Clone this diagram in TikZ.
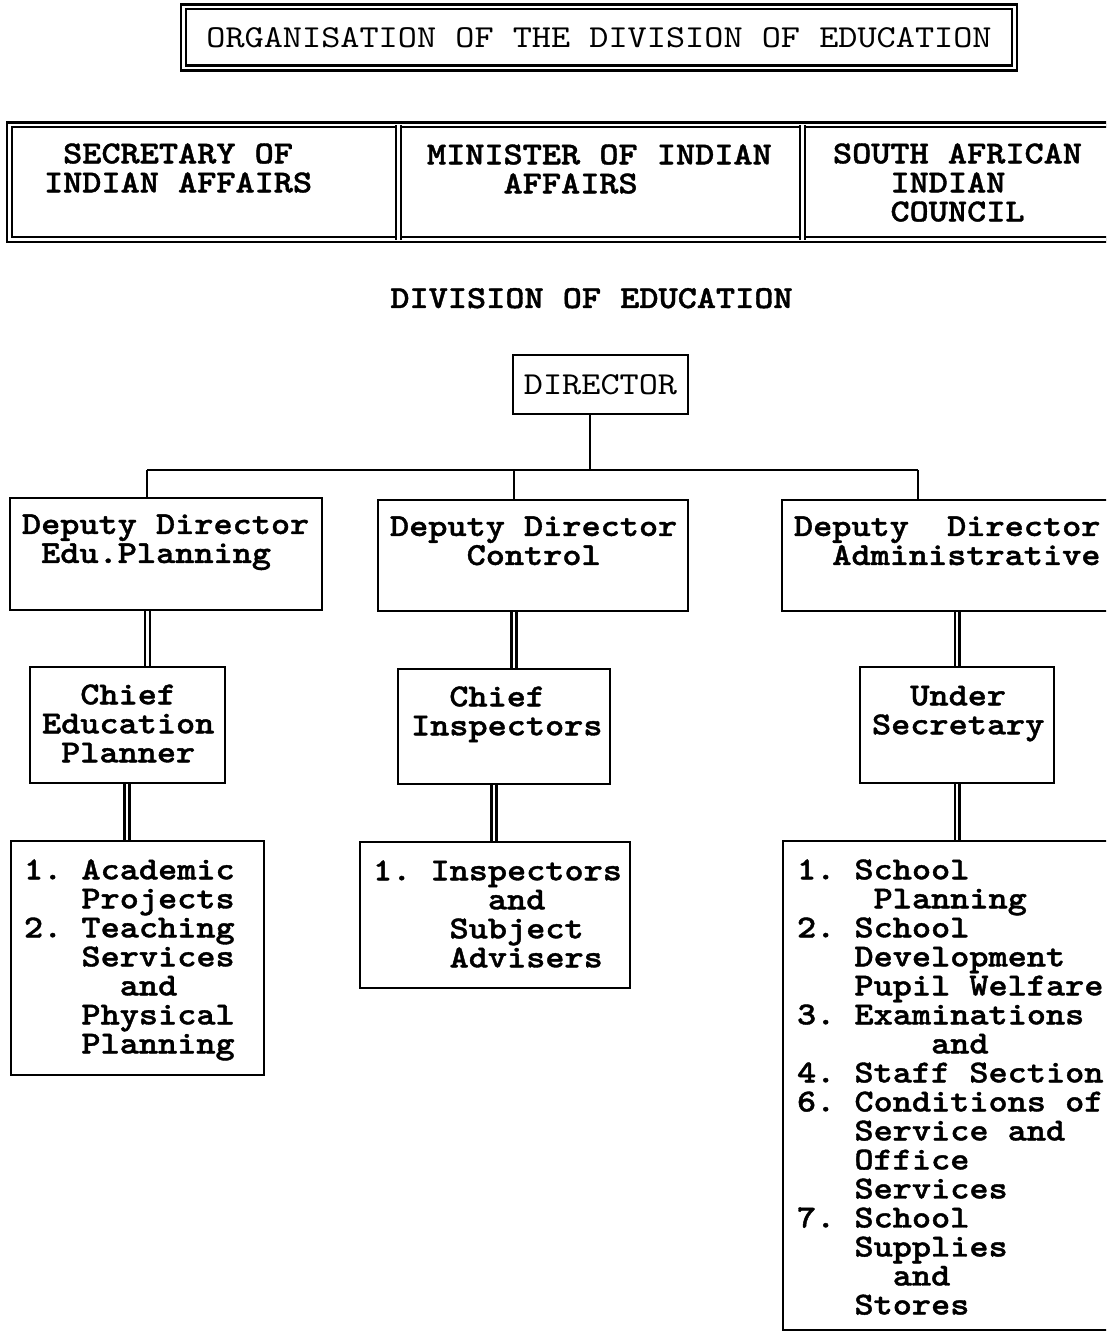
\documentclass[tikz,border=0pt]{standalone}
\usepackage{fontspec}
\newfontfamily\cour{lmmono10-regular}[Extension=.otf, BoldFont=lmmonolt10-bold, BoldFeatures={FakeBold=1.2}, FakeStretch=1.14]
\usetikzlibrary{backgrounds}
\begin{document}
\begin{tikzpicture}[x=0.01cm,y=-0.01cm,
  ln/.style={line width=0.75pt},
  box/.style={draw, line width=0.75pt, inner sep=0pt, outer sep=0pt},
  dbl/.style={draw, line width=0.6pt, double, double distance=0.8pt},
  cell/.style={inner sep=0pt, outer sep=0pt},
  txt/.style={inner sep=0pt, outer sep=0pt, anchor=north west, align=left,
    font={\cour\bfseries\fontsize{9.1pt}{8.25pt}\selectfont\frenchspacing\lineskiplimit=-20pt\lineskip=0pt},
    execute at begin node={\rule{0pt}{7pt}}},
  plain/.style={font={\cour\fontsize{9.1pt}{8.25pt}\selectfont\frenchspacing}},
  heavy/.style={font={\cour\bfseries\fontsize{9.1pt}{8.25pt}\selectfont\frenchspacing}},
]
\useasboundingbox (0,0) rectangle (1106,1334);
\clip (0,0) rectangle (1106,1334);

% heading
\node[dbl, plain, inner sep=0pt, outer sep=0pt, minimum width=8.31cm, minimum height=0.61cm]
  (title) at (599,37.5) {ORGANISATION OF THE DIVISION OF EDUCATION};

% upper row: three cells inside one double frame
\node[cell, minimum width=3.885cm, minimum height=1.145cm] (sec)  at (203.75,182.25) {};
\node[cell, minimum width=4.045cm, minimum height=1.145cm] (min)  at (600.25,182.25) {};
\node[cell, minimum width=3.375cm, minimum height=1.145cm] (saic) at (971.25,182.25) {};
\draw[dbl] (sec.north west) rectangle (saic.south east);
\draw[dbl] (sec.north east) -- (sec.south east);
\draw[dbl] (min.north east) -- (min.south east);
\node[txt] (sectxt)  at (44,168-24.6)  {\phantom{0}SECRETARY OF\\INDIAN AFFAIRS};
\node[txt] (mintxt)  at (427,169-24.6) {MINISTER OF INDIAN\\\phantom{0000}AFFAIRS};
\node[txt] (saictxt) at (833,168-24.6) {SOUTH AFRICAN\\\phantom{000}INDIAN\\\phantom{000}COUNCIL};

\node[heavy, anchor=base] (division) at (591.5,308) {DIVISION OF EDUCATION};

% chart boxes
\node[box, plain, minimum width=1.75cm, minimum height=0.59cm] (director) at (600.5,384.5) {DIRECTOR};

\node[box, minimum width=3.12cm, minimum height=1.12cm] (dep1) at (166,554) {};
\node[box, minimum width=3.10cm, minimum height=1.11cm] (dep2) at (533,555.5) {};
\node[box, minimum width=3.48cm, minimum height=1.11cm] (dep3) at (956,555.5) {};
\node[txt] (dep1txt) at (22,539-24.6)  {Deputy Director\\\phantom{0}Edu.Planning};
\node[txt] (dep2txt) at (390,541-24.6) {Deputy Director\\\phantom{0000}Control};
\node[txt] (dep3txt) at (794,541-24.6) {Deputy~~Director\\\phantom{00}Administrative};

\node[box, minimum width=1.95cm, minimum height=1.16cm] (chief1) at (127.5,725) {};
\node[box, minimum width=2.12cm, minimum height=1.15cm] (chief2) at (504,726.5) {};
\node[box, minimum width=1.94cm, minimum height=1.16cm] (chief3) at (957,725) {};
\node[txt] (chief1txt) at (42,709-24.6)  {\phantom{00}Chief\\Education\\\phantom{0}Planner};
\node[txt] (chief2txt) at (411,711-24.6) {\phantom{00}Chief\\Inspectors};
\node[txt] (chief3txt) at (872,710-24.6) {\phantom{00}Under\\Secretary};

\node[box, minimum width=2.53cm, minimum height=2.34cm] (list1) at (137.5,958) {};
\node[box, minimum width=2.70cm, minimum height=1.46cm] (list2) at (495,915) {};
\node[box, minimum width=3.47cm, minimum height=4.89cm] (list3) at (956.5,1085.5) {};
\node[txt] (list1txt) at (24,884-24.6) {1. Academic\\\phantom{000}Projects\\2. Teaching\\\phantom{000}Services\\\phantom{00000}and\\\phantom{000}Physical\\\phantom{000}Planning};
\node[txt] (list2txt) at (373,885-24.6) {1. Inspectors\\\phantom{000000}and\\\phantom{0000}Subject\\\phantom{0000}Advisers};
\node[txt] (list3txt) at (797,884-24.6) {1. School\\\phantom{0000}Planning\\2. School\\\phantom{000}Development\\\phantom{000}Pupil Welfare\\3. Examinations\\\phantom{0000000}and\\4. Staff Section\\6. Conditions of\\\phantom{000}Service and\\\phantom{000}Office\\\phantom{000}Services\\7. School\\\phantom{000}Supplies\\\phantom{00000}and\\\phantom{000}Stores};

% connectors
\coordinate (bus)  at (590,470);
\coordinate (busL) at (147,470);
\coordinate (busM) at (514,470);
\coordinate (busR) at (918,470);
\begin{scope}[on background layer]
  \draw[ln] (director.south -| bus) -- (bus);
  \draw[ln] (busL) -- (busR);
  \draw[ln] (busL) -- (busL |- dep1.north);
  \draw[ln] (busM) -- (busM |- dep2.north);
  \draw[ln] (busR) -- (busR |- dep3.north);
  \draw[dbl] (147.5,0 |- dep1.south) -- (147.5,0 |- chief1.north);
  \draw[dbl] (514,0 |- dep2.south) -- (514,0 |- chief2.north);
  \draw[dbl] (957,0 |- dep3.south) -- (957,0 |- chief3.north);
  \draw[dbl] (127,0 |- chief1.south) -- (127,0 |- list1.north);
  \draw[dbl] (494,0 |- chief2.south) -- (494,0 |- list2.north);
  \draw[dbl] (957,0 |- chief3.south) -- (957,0 |- list3.north);
\end{scope}
\end{tikzpicture}
\end{document}
